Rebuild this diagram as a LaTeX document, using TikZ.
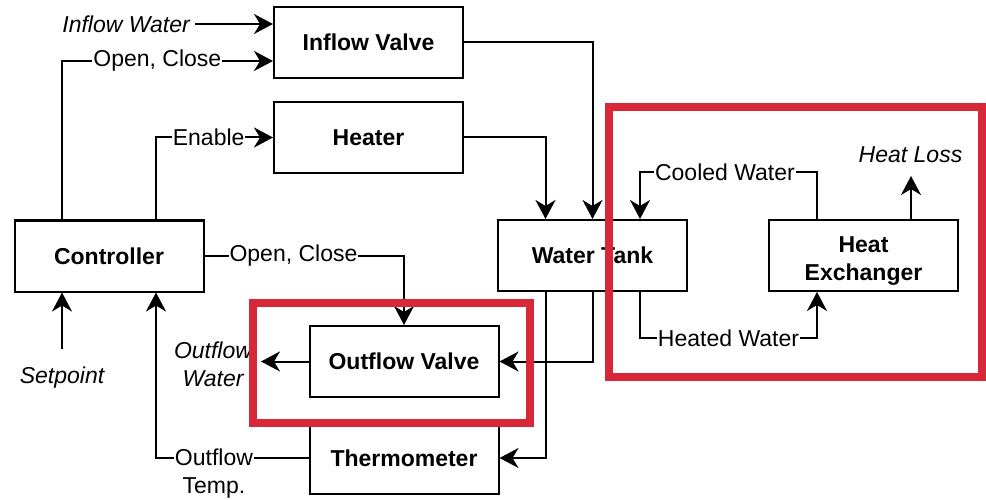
\documentclass[tikz,border=0pt]{standalone}
\usepackage{fontspec}
\setmainfont{Liberation Sans}
\usetikzlibrary{arrows.meta}
\definecolor{hlred}{RGB}{217,39,58}
\begin{document}
\begin{tikzpicture}[x=1pt,y=-1pt,
  box/.style={draw, line width=2pt, minimum width=189pt, minimum height=71pt, inner sep=0pt, align=center, font=\fontsize{23}{28}\selectfont\bfseries},
  conn/.style={line width=2pt, -{Stealth[length=19pt,width=20pt,inset=6pt]}},
  lbl/.style={fill=white, inner sep=1pt, font=\fontsize{23}{28}\selectfont},
  lbltwo/.style={fill=white, inner sep=1pt, align=center, font=\fontsize{23}{28}\selectfont},
  itl/.style={inner sep=0pt, align=center, font=\fontsize{23}{28}\selectfont\itshape},
  hl/.style={draw=hlred, line width=8pt}]
\useasboundingbox (0,0) rectangle (986,500);
% boxes
\node[box] (iv) at (368.5,42.5) {Inflow Valve};
\node[box] (ht) at (368.5,137.5) {Heater};
\node[box] (ctrl) at (109,256) {Controller};
\node[box] (wt) at (592.5,255.5) {Water Tank};
\node[box, text height=49pt, text depth=0pt] (hx) at (863.5,255.5) {Heat\\Exchanger};
\node[box] (ov) at (404,361.5) {Outflow Valve};
\node[box] (th) at (404,458) {Thermometer};
% free texts
\node[itl, anchor=east] (iw) at (190,24) {Inflow Water};
\node[itl] (sp) at (62,378) {Setpoint};
\node[itl] (ow) at (213,364) {Outflow\\Water};
\node[itl] (hlo) at (910.5,155) {Heat Loss};
\coordinate (spt) at (62,349);
\coordinate (owt) at (261,361.5);
% connectors
\draw[conn] ([xshift=5pt]iw.east) -- ([yshift=18.5pt]iv.west);
\draw[conn] ([xshift=-47pt]ctrl.north) |- node[lbl,pos=0.726]{Open, Close} ([yshift=-18.5pt]iv.west);
\draw[conn] ([xshift=47pt]ctrl.north) |- node[lbl,pos=0.725]{Enable} (ht.west);
\draw[conn] (iv.east) -| (wt.north);
\draw[conn] (ht.east) -| ([xshift=-47pt]wt.north);
\draw[conn] ([xshift=-46.5pt]hx.north) -- ++(0,-47) -| node[lbl,pos=0.26]{Cooled Water} ([xshift=47.5pt]wt.north);
\draw[conn] ([xshift=47.5pt]wt.south) -- ++(0,46) -| node[lbl,pos=0.25]{Heated Water} ([xshift=-46.5pt]hx.south);
\draw[conn] ([xshift=47.5pt]hx.north) -- ++(0,-43);
\draw[conn] (ctrl.east) -| node[lbl,pos=0.223]{Open, Close} (ov.north);
\draw[conn] (wt.south) |- (ov.east);
\draw[conn] ([xshift=-47pt]wt.south) |- (th.east);
\draw[conn] (ov.west) -- (owt);
\draw[conn] (th.west) -| node[lbltwo,pos=0.31,yshift=-16pt]{Outflow\\Temp.} ([xshift=47pt]ctrl.south);
\draw[conn] (spt) -- ([xshift=-47pt]ctrl.south);
% highlight frames
\draw[hl] (609,107.5) rectangle (982,377);
\draw[hl] (253,302.5) rectangle (530,423);
\end{tikzpicture}
\end{document}
